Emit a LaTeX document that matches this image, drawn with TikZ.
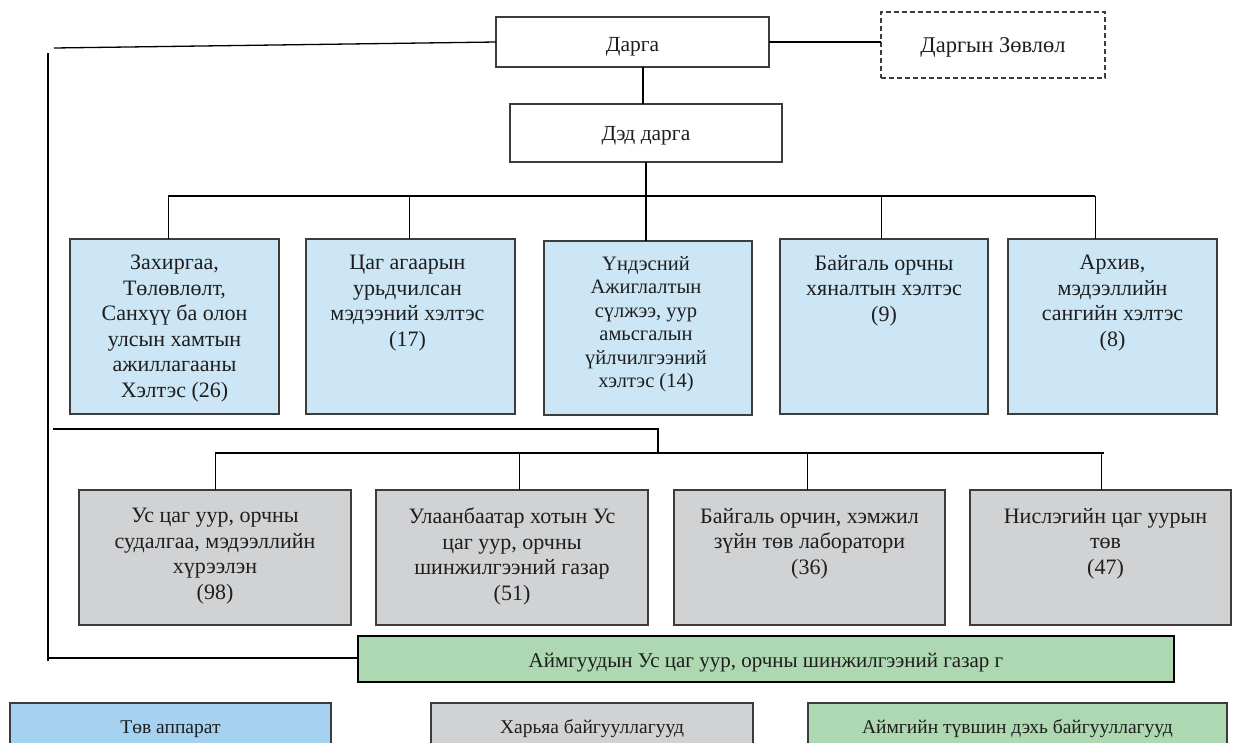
\documentclass[tikz,border=0pt]{standalone}
\usepackage{fontspec}
\setmainfont{Liberation Serif}
\definecolor{blueF}{HTML}{CCE6F6}
\definecolor{blueL}{HTML}{A4D2F0}
\definecolor{grayF}{HTML}{D1D2D4}
\definecolor{greenF}{HTML}{ADD8B1}
\definecolor{bordc}{HTML}{3C3C3C}
\definecolor{textc}{HTML}{1E1E1E}
\newcommand{\fsBody}{\fontsize{22}{25.6}\selectfont}
\newcommand{\fsMid}{\fontsize{20.5}{23.5}\selectfont}
\newcommand{\fsTop}{\fontsize{21.5}{24}\selectfont}
\newcommand{\fsCons}{\fontsize{22.5}{24}\selectfont}
\newcommand{\fsGreen}{\fontsize{21}{24}\selectfont}
\newcommand{\fsSmall}{\fontsize{19.5}{22}\selectfont}
\begin{document}
\begin{tikzpicture}[x=1pt,y=-1pt,
  every node/.style={inner sep=0pt, outer sep=0pt, text=textc},
  topbox/.style={draw=bordc, line width=1.2pt, fill=white, font=\fsTop},
  consbox/.style={draw=bordc, line width=1.8pt, dash pattern=on 5pt off 3pt, fill=white, font=\fsCons},
  bluebox/.style={draw=bordc, line width=1.2pt, fill=blueF},
  graybox/.style={draw=bordc, line width=1.2pt, fill=grayF},
  greenbox/.style={draw=black, line width=2.2pt, fill=greenF, font=\fsGreen, text height=16pt, text depth=0pt},
  legbox/.style={draw=bordc, line width=1.4pt, font=\fsSmall, text height=12pt, text depth=0pt},
  txt/.style={align=center, font=\fsBody, anchor=north},
  txtmid/.style={align=center, font=\fsMid, anchor=north},
  bus/.style={line width=2pt, black},
  drop/.style={line width=1pt, black},
  side/.style={line width=2pt, black}]
\useasboundingbox (0,0) rectangle (1233,742);
\clip (0,0) rectangle (1233,742);
\fill[white] (0,0) rectangle (1233,742);

% top level
\node[topbox, minimum width=273pt, minimum height=50pt, text height=18pt, text depth=0pt] (darga) at (632.5,42) {Дарга};
\node[consbox, minimum width=224pt, minimum height=66pt, text height=14pt, text depth=0pt] (cons) at (993,45) {Даргын Зөвлөл};
\node[topbox, minimum width=272pt, minimum height=58pt, text height=14pt, text depth=0pt] (ded) at (646,133) {Дэд дарга};

% departments (blue)
\node[bluebox, minimum width=209pt, minimum height=175pt] (b1) at (174.5,326.5) {};
\node[bluebox, minimum width=209pt, minimum height=175pt] (b2) at (410.5,326.5) {};
\node[bluebox, minimum width=208pt, minimum height=174pt] (b3) at (648,328) {};
\node[bluebox, minimum width=208pt, minimum height=175pt] (b4) at (884,326.5) {};
\node[bluebox, minimum width=209pt, minimum height=175pt] (b5) at (1112.5,326.5) {};
\node[txt] (b1t) at ([yshift=-16pt]b1.north) {Захиргаа,\\Төлөвлөлт,\\Санхүү ба олон\\улсын хамтын\\ажиллагааны\\Хэлтэс (26)};
\node[txt] (b2t) at ([yshift=-16pt,xshift=-3pt]b2.north) {Цаг агаарын\\урьдчилсан\\мэдээний хэлтэс\\(17)};
\node[txtmid] (b3t) at ([yshift=-15pt,xshift=-2pt]b3.north) {Үндэсний\\Ажиглалтын\\сүлжээ, уур\\амьсгалын\\үйлчилгээний\\хэлтэс (14)};
\node[txt] (b4t) at ([yshift=-16pt]b4.north) {Байгаль орчны\\хяналтын хэлтэс\\(9)};
\node[txt] (b5t) at ([yshift=-16pt]b5.north) {Архив,\\мэдээллийн\\сангийн хэлтэс\\(8)};

% subordinate (gray)
\node[graybox, minimum width=272pt, minimum height=135pt] (g1) at (215,557.5) {};
\node[graybox, minimum width=272pt, minimum height=135pt] (g2) at (512,557.5) {};
\node[graybox, minimum width=271pt, minimum height=135pt] (g3) at (809.5,557.5) {};
\node[graybox, minimum width=261pt, minimum height=135pt] (g4) at (1100.5,557.5) {};
\node[txt] (g1t) at ([yshift=-18pt]g1.north) {Ус цаг уур, орчны\\судалгаа, мэдээллийн\\хүрээлэн\\(98)};
\node[txt] (g2t) at ([yshift=-18pt]g2.north) {Улаанбаатар хотын Ус\\цаг уур, орчны\\шинжилгээний газар\\(51)};
\node[txt] (g3t) at ([yshift=-18pt]g3.north) {Байгаль орчин, хэмжил\\зүйн төв лаборатори\\(36)};
\node[txt] (g4t) at ([yshift=-18pt,xshift=5pt]g4.north) {Нислэгийн цаг уурын\\төв\\(47)};

% provincial (green)
\node[greenbox, minimum width=816pt, minimum height=46pt] (green) at (766,659) {Аймгуудын Ус цаг уур, орчны шинжилгээний газар г};

% legend
\node[legbox, fill=blueL, minimum width=321pt, minimum height=48pt] (leg1) at (170.5,727) {Төв аппарат};
\node[legbox, fill=grayF, minimum width=322pt, minimum height=48pt] (leg2) at (592,727) {Харьяа байгууллагууд};
\node[legbox, fill=greenF, minimum width=419pt, minimum height=48pt] (leg3) at (1017.5,727) {Аймгийн түвшин дэхь байгууллагууд};

% connectors at top
\coordinate (tlend) at (54,48);
\draw[line width=1.3pt] (darga.west) -- (tlend);
\draw[line width=1.8pt] (darga.east) -- (darga.east -| cons.west);
\coordinate (dd) at (643,0);
\draw[line width=1.6pt] (darga.south -| dd) -- (ded.north -| dd);

% left side line
\coordinate (lvtop) at (48,53);
\coordinate (lvbot) at (48,661);
\draw[side] (lvtop) -- (lvbot);
\coordinate (lbl) at (47,658);
\draw[line width=1.5pt] (lbl) -- (lbl -| green.west);

% bus 1
\coordinate (bus1L) at (168,196);
\coordinate (bus1R) at (1095,196);
\draw[bus] (ded.south) -- (ded.south |- bus1L);
\draw[bus] (bus1L) -- (bus1R);
\coordinate (d2) at (409,196);
\coordinate (d4) at (881,196);
\draw[drop] (bus1L) -- (bus1L |- b1.north);
\draw[drop] (d2) -- (d2 |- b2.north);
\draw[bus] (ded.south |- bus1L) -- (ded.south |- b3.north);
\draw[drop] (d4) -- (d4 |- b4.north);
\draw[drop] (bus1R) -- (bus1R |- b5.north);

% middle line and bus 2
\coordinate (midL) at (53,429);
\coordinate (midR) at (658,429);
\coordinate (bus2L) at (215,453);
\coordinate (bus2R) at (1104,453);
\draw[bus] (midL) -- (midR) -- (midR |- bus2L);
\draw[bus] (bus2L) -- (bus2R);
\coordinate (d7) at (519,453);
\coordinate (d8) at (807,453);
\coordinate (d9) at (1101,453);
\draw[drop] (bus2L) -- (bus2L |- g1.north);
\draw[drop] (d7) -- (d7 |- g2.north);
\draw[drop] (d8) -- (d8 |- g3.north);
\draw[drop] (d9) -- (d9 |- g4.north);
\end{tikzpicture}
\end{document}
